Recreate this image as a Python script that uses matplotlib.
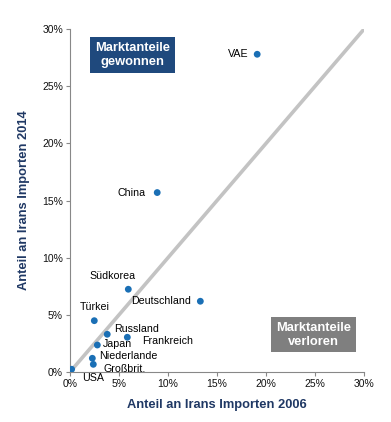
import matplotlib
matplotlib.use("Agg")
import matplotlib.pyplot as plt
from matplotlib.ticker import FuncFormatter

plt.rcParams['font.family'] = ['Liberation Sans', 'DejaVu Sans']

countries = ["VAE", "China", "Südkorea", "Deutschland", "Türkei", "Russland",
             "Frankreich", "Japan", "Niederlande", "Großbrit.", "USA"]
share_2006 = [19.1, 8.9, 5.95, 13.3, 2.48, 3.8, 5.85, 2.79, 2.28, 2.38, 0.17]
share_2014 = [27.8, 15.7, 7.24, 6.19, 4.49, 3.3, 3.04, 2.36, 1.2, 0.67, 0.24]
ticks = [0, 5, 10, 15, 20, 25, 30]

# label offsets (points) and alignment
label_style = {
    "VAE": ((-6, 0), "right", "center"),
    "China": ((-8, 0), "right", "center"),
    "Südkorea": ((-11.5, 9.5), "center", "center"),
    "Deutschland": ((-7, 0), "right", "center"),
    "Türkei": ((0.5, 9.5), "center", "center"),
    "Russland": ((5, 3.5), "left", "center"),
    "Frankreich": ((10.5, -2.5), "left", "center"),
    "Japan": ((4, 0.5), "left", "center"),
    "Niederlande": ((5, 1.5), "left", "center"),
    "Großbrit.": ((7, -3), "left", "center"),
    "USA": ((7.5, -6), "left", "center"),
}

fig = plt.figure(figsize=(3.91, 4.22), dpi=100)
ax = fig.add_axes([0.179, 0.1185, 0.752, 0.8125])

ax.plot([0, 30], [0, 30], color="#c3c3c3", lw=2.6, zorder=1, solid_capstyle="butt")
ax.scatter(share_2006, share_2014, s=24, color="#1a6fb5", zorder=3, edgecolors="none")

for c, x, y in zip(countries, share_2006, share_2014):
    off, ha, va = label_style[c]
    ax.annotate(c, (x, y), xytext=off, textcoords="offset points",
                ha=ha, va=va, fontsize=7.7, color="#000000")

ax.set_xlim(0, 30)
ax.set_ylim(0, 30)
ax.set_xticks(ticks)
ax.set_yticks(ticks)
fmt = FuncFormatter(lambda v, p: f"{int(v)}%")
ax.xaxis.set_major_formatter(fmt)
ax.yaxis.set_major_formatter(fmt)
ax.tick_params(labelsize=7.5, colors="#111111", length=3, width=0.8, color="#888888", pad=2)
for s in ["top", "right"]:
    ax.spines[s].set_visible(False)
for s in ["left", "bottom"]:
    ax.spines[s].set_color("#888888")
    ax.spines[s].set_linewidth(0.8)

ax.set_xlabel("Anteil an Irans Importen 2006", fontsize=9.3, fontweight="bold",
              color="#1f3864", labelpad=7)
ax.set_ylabel("Anteil an Irans Importen 2014", fontsize=9.3, fontweight="bold",
              color="#1f3864", labelpad=9)

ax.text(0.213, 0.924, "Marktanteile\ngewonnen", transform=ax.transAxes,
        ha="center", va="center", fontsize=9.3, fontweight="bold", color="white",
        linespacing=1.2,
        bbox=dict(boxstyle="square,pad=0.38", fc="#1f497d", ec="none"))
ax.text(0.827, 0.109, "Marktanteile\nverloren", transform=ax.transAxes,
        ha="center", va="center", fontsize=9.3, fontweight="bold", color="white",
        linespacing=1.2,
        bbox=dict(boxstyle="square,pad=0.38", fc="#7f7f7f", ec="none"))

fig.savefig("out.png", dpi=100)
